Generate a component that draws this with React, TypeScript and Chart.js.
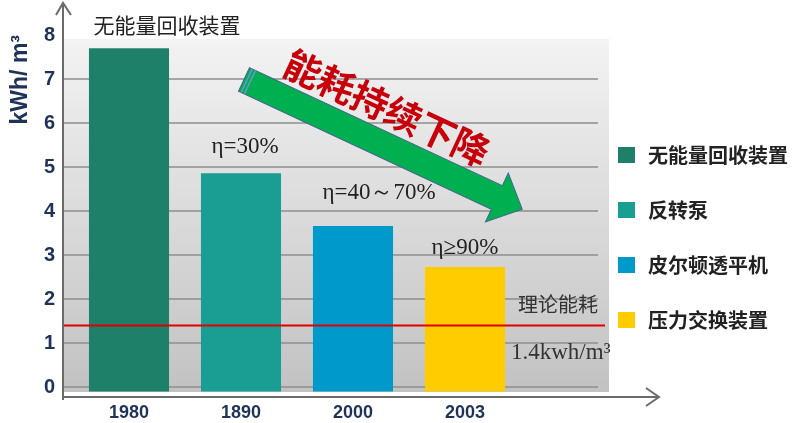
import React, { useEffect, useRef } from 'react';
import { Chart, registerables } from 'chart.js';

Chart.register(...registerables);

// ---- data ----
const years = ['1980', '1890', '2000', '2003'];
const energyUse = [7.7, 4.86, 3.66, 2.73];
const deviceNames = ['无能量回收装置', '反转泵', '皮尔顿透平机', '压力交换装置'];
const barNotes = ['无能量回收装置', 'η=30%', 'η=40～70%', 'η≥90%'];
const yTicks = [0, 1, 2, 3, 4, 5, 6, 7, 8];
const theoreticalLimit = 1.4;
const theoreticalLabel = '理论能耗';
const theoreticalValueLabel = '1.4kwh/m³';
const trendText = '能耗持续下降';
const yAxisTitle = 'kWh/ m³';

// ---- styles ----
const barColors = ['#1e8068', '#1a9e94', '#0099cc', '#ffcc00'];
const noteOffsets = [
  [38, -23],
  [4, -26],
  [26, -33],
  [0, -19],
];
const navy = '#1f3257';
const CJK = '"Noto Sans CJK SC", "Noto Sans", sans-serif';
const SERIF = '"Liberation Serif", "DejaVu Serif", serif';
const SANS = '"Liberation Sans", Arial, sans-serif';

const decorPlugin = {
  id: 'decor',
  beforeDraw(chart: any) {
    const { ctx } = chart;
    const ys = chart.scales.y;
    const top = 39, bottom = 392, left = 63, right = 609;
    ctx.save();
    const g = ctx.createLinearGradient(0, top, 0, bottom);
    g.addColorStop(0, '#f3f3f3');
    g.addColorStop(1, '#c2c2c2');
    ctx.fillStyle = g;
    ctx.fillRect(left, top, right - left, bottom - top);
    ctx.strokeStyle = '#8e8e8e';
    ctx.lineWidth = 1.5;
    for (const v of yTicks) {
      const py = ys.getPixelForValue(v);
      if (py < top) continue;
      ctx.beginPath();
      ctx.moveTo(left, py);
      ctx.lineTo(598, py);
      ctx.stroke();
    }
    ctx.restore();
  },
  afterDatasetsDraw(chart: any) {
    const { ctx } = chart;
    const ys = chart.scales.y;
    ctx.save();

    // theoretical line
    const ly = ys.getPixelForValue(theoreticalLimit);
    ctx.strokeStyle = '#e00000';
    ctx.lineWidth = 2;
    ctx.beginPath();
    ctx.moveTo(63, ly);
    ctx.lineTo(605, ly);
    ctx.stroke();

    // axes with arrows
    ctx.strokeStyle = '#6b6b6b';
    ctx.lineWidth = 2;
    ctx.beginPath();
    ctx.moveTo(63, 400);
    ctx.lineTo(63, 3);
    ctx.moveTo(56, 15);
    ctx.lineTo(63, 3);
    ctx.lineTo(71, 15);
    ctx.moveTo(63, 397);
    ctx.lineTo(659, 397);
    ctx.moveTo(646, 388);
    ctx.lineTo(659, 397);
    ctx.lineTo(646, 406);
    ctx.stroke();

    // bar notes
    const meta = chart.getDatasetMeta(0);
    ctx.textAlign = 'center';
    ctx.textBaseline = 'middle';
    ctx.fillStyle = '#222';
    barNotes.forEach((note, i) => {
      const el = meta.data[i];
      if (!el) return;
      ctx.font = i === 0 ? `21px ${CJK}` : `23px ${SERIF}`;
      ctx.fillText(note, el.x + noteOffsets[i][0], el.y + noteOffsets[i][1]);
    });

    // theoretical labels
    ctx.fillStyle = '#333';
    ctx.font = `20px ${CJK}`;
    ctx.fillText(theoreticalLabel, 558, ly - 21);
    ctx.textAlign = 'left';
    ctx.font = `23px ${SERIF}`;
    ctx.fillText(theoreticalValueLabel, 511, ly + 28);

    // big trend arrow
    ctx.save();
    ctx.translate(244, 79.5);
    ctx.rotate((25 * Math.PI) / 180);
    ctx.beginPath();
    ctx.moveTo(0, -13);
    ctx.lineTo(279, -13);
    ctx.lineTo(279, -27);
    ctx.lineTo(307, 0);
    ctx.lineTo(279, 27);
    ctx.lineTo(279, 13);
    ctx.lineTo(0, 13);
    ctx.closePath();
    ctx.fillStyle = '#00b050';
    ctx.fill();
    ctx.strokeStyle = '#41658f';
    ctx.lineWidth = 1;
    ctx.stroke();
    ctx.strokeStyle = '#6f93d6';
    ctx.lineWidth = 1.5;
    ctx.beginPath();
    ctx.moveTo(3, -13);
    ctx.lineTo(3, 13);
    ctx.moveTo(6.5, -13);
    ctx.lineTo(6.5, 13);
    ctx.stroke();
    ctx.restore();

    // trend text
    ctx.save();
    ctx.translate(387, 108);
    ctx.rotate((25 * Math.PI) / 180);
    ctx.font = `bold 37px ${CJK}`;
    ctx.fillStyle = '#c8000a';
    ctx.textAlign = 'center';
    ctx.textBaseline = 'middle';
    ctx.fillText(trendText, 0, 0);
    ctx.restore();

    // legend
    ctx.textAlign = 'left';
    ctx.textBaseline = 'middle';
    ctx.font = `bold 20px ${CJK}`;
    deviceNames.forEach((name, i) => {
      const cy = 155 + i * 55;
      ctx.fillStyle = barColors[i];
      ctx.fillRect(618, cy - 8, 17, 16);
      ctx.fillStyle = '#222';
      ctx.fillText(name, 648, cy);
    });

    ctx.restore();
  },
};

export default function App() {
  const ref = useRef<HTMLCanvasElement | null>(null);
  useEffect(() => {
    if (!ref.current) return;
    const chart = new Chart(ref.current, {
      type: 'bar',
      data: {
        labels: years,
        datasets: [
          {
            label: 'kWh/m³',
            data: energyUse,
            backgroundColor: barColors,
            borderWidth: 0,
            base: -0.1,
            categoryPercentage: 1,
            barPercentage: 0.715,
          } as any,
        ],
      },
      options: {
        animation: false,
        responsive: false,
        layout: { padding: { left: 0, top: 35, right: 279, bottom: 0 } },
        plugins: { legend: { display: false }, tooltip: { enabled: false } },
        scales: {
          x: {
            grid: { display: false, drawTicks: false },
            border: { display: false },
            ticks: { color: navy, font: { family: SANS, size: 18, weight: 'bold' }, padding: 4 },
            afterFit: (s: any) => {
              s.height = 25;
              s.paddingLeft = 0;
              s.paddingRight = 0;
            },
          },
          y: {
            min: -0.25,
            max: 8,
            grid: { display: false, drawTicks: false },
            border: { display: false },
            afterBuildTicks: (s: any) => { s.ticks = yTicks.map((v) => ({ value: v })); },
            ticks: { color: navy, font: { family: SANS, size: 20, weight: 'bold' }, padding: 18 },
            title: {
              display: true,
              text: yAxisTitle,
              align: 'end',
              color: navy,
              font: { family: SANS, size: 23, weight: 'bold' },
              padding: { top: 7, bottom: 0 },
            },
            afterFit: (s: any) => {
              s.width = 73;
              s.paddingTop = 0;
              s.paddingBottom = 0;
            },
          },
        },
      },
      plugins: [decorPlugin],
    } as any);
    return () => chart.destroy();
  }, []);
  return (
    <div style={{ position: 'fixed', left: 0, top: 0, width: 800, height: 423, background: '#fff' }}>
      <canvas ref={ref} width={800} height={423} />
    </div>
  );
}
